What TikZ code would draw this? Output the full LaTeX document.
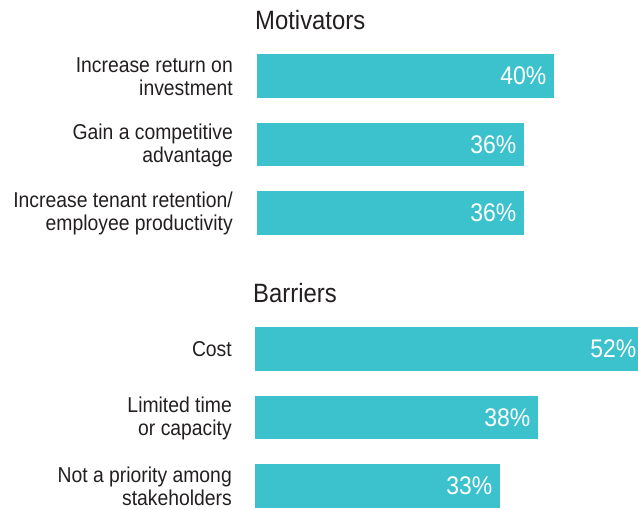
\documentclass[tikz,border=0pt]{standalone}
\usepackage{fontspec}
\setmainfont{Liberation Sans}[FakeStretch=0.9]
\definecolor{barcol}{HTML}{3BC2CC}
\definecolor{ink}{HTML}{231F20}
\begin{document}
\begin{tikzpicture}[x=1pt,y=-1pt,
  barbox/.style={fill=barcol,draw=none,inner sep=0pt,anchor=north west,minimum height=43.5pt},
  pct/.style={text=white,font=\fontsize{25.5}{25.5}\selectfont,anchor=east,inner sep=0pt},
  lbl/.style={text=ink,font=\fontsize{21.5}{23}\selectfont,align=right,anchor=east,inner sep=0pt},
  ttl/.style={text=ink,font=\fontsize{26.5}{26.5}\selectfont,anchor=west,inner sep=0pt}]
\useasboundingbox (0,0) rectangle (638,510);
% Motivators
\node[ttl] (tm) at (255,20) {Motivators};
\node[barbox,minimum width=297pt] (m1) at (257,54) {};
\node[barbox,minimum width=267pt] (m2) at (257,122.5) {};
\node[barbox,minimum width=267pt] (m3) at (257,191) {};
\node[pct] at ([xshift=-8pt]m1.east) {40\%};
\node[pct] at ([xshift=-8pt]m2.east) {36\%};
\node[pct] at ([xshift=-8pt]m3.east) {36\%};
\node[lbl] (lm1) at (233,76.5) {Increase return on\\investment};
\node[lbl] (lm2) at (233,145) {Gain a competitive\\advantage};
\node[lbl] (lm3) at (233,213.5) {Increase tenant retention/\\employee productivity};
% Barriers
\node[ttl] (tb) at (253,293) {Barriers};
\node[barbox,minimum width=383pt] (b1) at (255,327) {};
\node[barbox,minimum width=283pt] (b2) at (255,395.5) {};
\node[barbox,minimum width=245pt] (b3) at (255,464) {};
\node[pct] at ([xshift=-2pt]b1.east) {52\%};
\node[pct] at ([xshift=-8pt]b2.east) {38\%};
\node[pct] at ([xshift=-8pt]b3.east) {33\%};
\node[lbl] (lb1) at (232,349) {Cost};
\node[lbl] (lb2) at (232,418) {Limited time\\or capacity};
\node[lbl] (lb3) at (232,486) {Not a priority among\\stakeholders};
\end{tikzpicture}
\end{document}
